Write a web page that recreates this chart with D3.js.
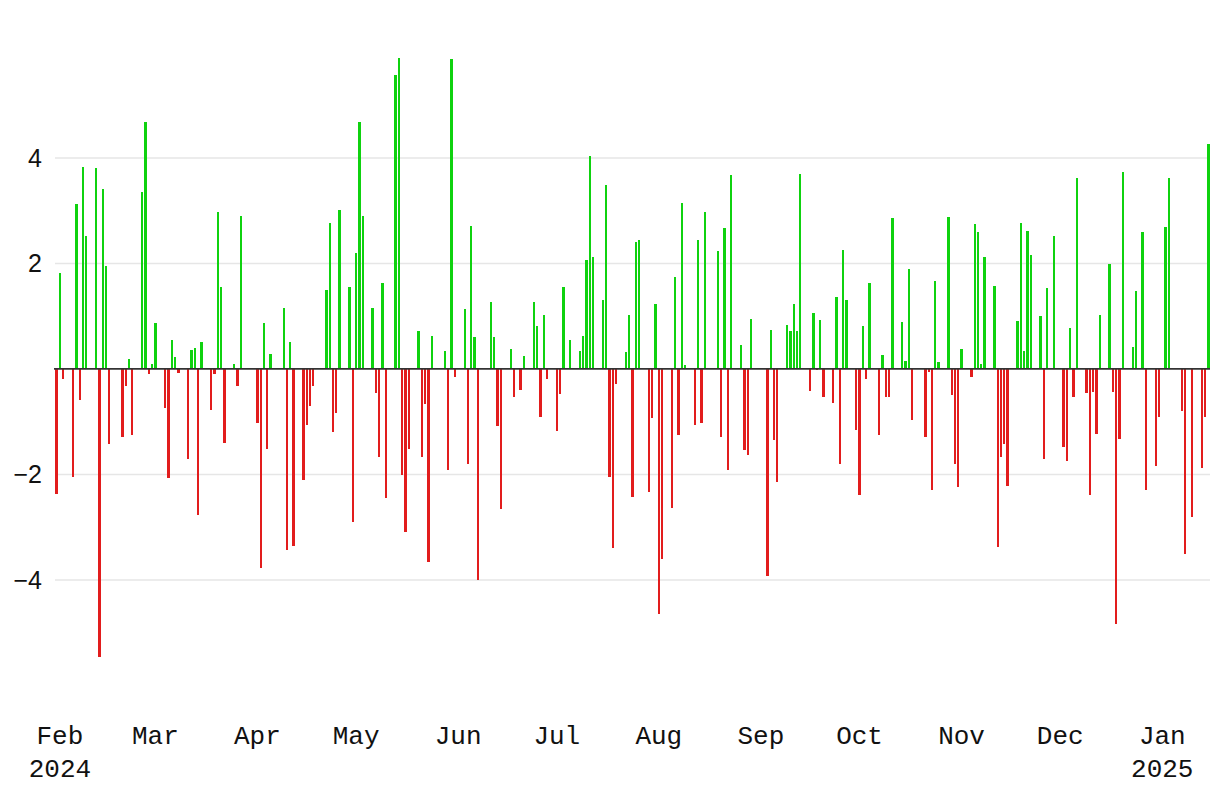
<!DOCTYPE html>
<html>
<head>
<meta charset="utf-8">
<script src="https://cdn.jsdelivr.net/npm/d3@7"></script>
<style>
  html, body { margin: 0; padding: 0; background: #fff; }
  svg { display: block; }
</style>
</head>
<body>
<svg id="chart" width="1220" height="808"></svg>
<script>
// ---- data (daily change, trading days) ----
const dates = [
"2024-01-31","2024-02-01","2024-02-02","2024-02-05","2024-02-06","2024-02-07","2024-02-08","2024-02-09",
"2024-02-12","2024-02-13","2024-02-14","2024-02-15","2024-02-16","2024-02-20","2024-02-21","2024-02-22","2024-02-23",
"2024-02-26","2024-02-27","2024-02-28","2024-02-29","2024-03-01","2024-03-04","2024-03-05","2024-03-06","2024-03-07","2024-03-08",
"2024-03-11","2024-03-12","2024-03-13","2024-03-14","2024-03-15","2024-03-18","2024-03-19","2024-03-20","2024-03-21","2024-03-22",
"2024-03-25","2024-03-26","2024-03-27","2024-04-01","2024-04-02","2024-04-03","2024-04-04","2024-04-05",
"2024-04-09","2024-04-10","2024-04-11","2024-04-12","2024-04-15","2024-04-16","2024-04-17","2024-04-18",
"2024-04-22","2024-04-23","2024-04-24","2024-04-25","2024-04-26","2024-04-29","2024-04-30","2024-05-01","2024-05-02","2024-05-03",
"2024-05-06","2024-05-07","2024-05-08","2024-05-09","2024-05-10","2024-05-13","2024-05-14","2024-05-15","2024-05-16","2024-05-17",
"2024-05-20","2024-05-21","2024-05-22","2024-05-23","2024-05-24","2024-05-28","2024-05-29","2024-05-30","2024-05-31",
"2024-06-03","2024-06-04","2024-06-05","2024-06-06","2024-06-07","2024-06-11","2024-06-12","2024-06-13","2024-06-14",
"2024-06-17","2024-06-18","2024-06-20","2024-06-21","2024-06-24","2024-06-25","2024-06-26","2024-06-27","2024-06-28",
"2024-07-01","2024-07-02","2024-07-03","2024-07-05","2024-07-08","2024-07-09","2024-07-10","2024-07-11","2024-07-12",
"2024-07-15","2024-07-16","2024-07-17","2024-07-18","2024-07-19","2024-07-22","2024-07-23","2024-07-24","2024-07-25","2024-07-26",
"2024-07-29","2024-07-30","2024-07-31","2024-08-01","2024-08-02","2024-08-05","2024-08-06","2024-08-07","2024-08-08","2024-08-09",
"2024-08-12","2024-08-13","2024-08-14","2024-08-15","2024-08-19","2024-08-20","2024-08-21","2024-08-22","2024-08-23",
"2024-08-26","2024-08-27","2024-08-28","2024-08-29","2024-09-03","2024-09-04","2024-09-05","2024-09-06",
"2024-09-09","2024-09-10","2024-09-11","2024-09-12","2024-09-13","2024-09-16","2024-09-17","2024-09-18","2024-09-19","2024-09-20",
"2024-09-23","2024-09-24","2024-09-25","2024-09-26","2024-09-27","2024-09-30","2024-10-01","2024-10-02","2024-10-03","2024-10-04",
"2024-10-07","2024-10-08","2024-10-09","2024-10-10","2024-10-11","2024-10-14","2024-10-15","2024-10-16","2024-10-17",
"2024-10-21","2024-10-22","2024-10-23","2024-10-24","2024-10-25","2024-10-28","2024-10-29","2024-10-30","2024-10-31","2024-11-01",
"2024-11-04","2024-11-05","2024-11-06","2024-11-07","2024-11-08","2024-11-11","2024-11-12","2024-11-13","2024-11-14","2024-11-15",
"2024-11-18","2024-11-19","2024-11-20","2024-11-21","2024-11-22","2024-11-25","2024-11-26","2024-11-27","2024-11-29",
"2024-12-02","2024-12-03","2024-12-04","2024-12-05","2024-12-06","2024-12-09","2024-12-10","2024-12-11","2024-12-12","2024-12-13",
"2024-12-16","2024-12-17","2024-12-18","2024-12-19","2024-12-20","2024-12-23","2024-12-24","2024-12-26","2024-12-27",
"2024-12-30","2024-12-31","2025-01-02","2025-01-03","2025-01-07","2025-01-08","2025-01-10","2025-01-13","2025-01-14","2025-01-15"
];
const changes = [
-2.37, 1.81, -0.19, -2.04, 3.12, -0.59, 3.83, 2.52,
3.81, -5.46, 3.41, 1.95, -1.42, -1.29, -0.33, 0.19, -1.25,
3.35, 4.68, -0.09, 0.09, 0.87, -0.74, -2.06, 0.55, 0.22, -0.07,
-1.70, 0.36, 0.39, -2.77, 0.51, -0.77, -0.09, 2.97, 1.55, -1.40,
0.09, -0.32, 2.90, -1.02, -3.78, 0.87, -1.52, 0.28,
1.15, -3.43, 0.51, -3.36, -2.10, -1.06, -0.71, -0.33,
1.49, 2.77, -1.20, -0.84, 3.01, 1.55, -2.90, 2.19, 4.68, 2.90,
1.15, -0.45, -1.67, 1.63, -2.44, 5.57, 5.90, -2.01, -3.10, -1.52,
0.72, -1.67, -0.66, -3.66, 0.62, 0.34, -1.91, 5.87, -0.16,
1.14, -1.80, 2.71, 0.60, -4.01, 1.27, 0.60, -1.09, -2.66,
0.38, -0.53, -0.40, 0.25, 1.27, 0.81, -0.92, 1.02, -0.20,
-1.17, -0.47, 1.55, 0.55, 0.34, 0.62, 2.07, 4.04, 2.12,
1.31, 3.49, -2.04, -3.40, -0.28, 0.32, 1.02, -2.42, 2.40, 2.45,
-2.34, -0.94, 1.23, -4.64, -3.61, -2.63, 1.74, -1.25, 3.14, 0.07,
-1.06, 2.45, -1.02, 2.97, 2.24, -1.30, 2.67, -1.91, 3.67,
0.45, -1.53, -1.64, 0.94, -3.92, 0.74, -1.34, -2.14,
0.83, 0.72, 1.23, 0.72, 3.70, -0.41, 1.06, -0.03, 0.93, -0.53,
-0.64, 1.36, -1.80, 2.25, 1.31, -1.15, -2.39, 0.81, -0.20, 1.63,
-1.25, 0.26, -0.54, -0.54, 2.86, 0.89, 0.15, 1.90, -0.96,
-1.30, -0.05, -2.30, 1.67, 0.13, 2.88, -0.49, -1.81, -2.23, 0.38,
-0.16, 2.74, 2.59, 0.09, 2.12, 1.57, -3.37, -1.67, -1.43, -2.22,
0.91, 2.77, 0.34, 2.62, 2.16, 1.00, -1.70, 1.53, 2.52,
-1.49, -1.74, 0.77, -0.53, 3.62, -0.45, -2.39, -0.43, -1.23, 1.02,
1.99, -0.43, -4.83, -1.32, 3.73, 0.42, 1.48, 2.59, -2.30,
-1.85, -0.92, 2.69, 3.62, -0.79, -3.50, -2.80, -1.88, -0.91, 4.26
];
const yTicks = [-4, -2, 2, 4];
const xTickDates = ["2024-02-01","2024-03-01","2024-04-01","2024-05-01","2024-06-01","2024-07-01",
                    "2024-08-01","2024-09-01","2024-10-01","2024-11-01","2024-12-01","2025-01-01"];
const xTickLabels = [["Feb","2024"],["Mar"],["Apr"],["May"],["Jun"],["Jul"],["Aug"],["Sep"],["Oct"],["Nov"],["Dec"],["Jan","2025"]];

// ---- chart ----
const parse = d3.utcParse("%Y-%m-%d");
const data = dates.map((d, i) => ({ date: parse(d), value: changes[i] }));

const W = 1220, H = 808;
const left = 55, right = 1210;
const svg = d3.select("#chart");

const x = d3.scaleUtc()
  .domain([new Date(Date.UTC(2024, 0, 30, 12)), new Date(Date.UTC(2025, 0, 15, 12))])
  .range([left, right]);
const y = d3.scaleLinear().domain([-6, 6]).range([685.4, 52.4]);

// grid
svg.append("g").selectAll("line").data(yTicks).join("line")
  .attr("x1", left).attr("x2", right)
  .attr("y1", d => y(d)).attr("y2", d => y(d))
  .attr("stroke", "#e6e6e6").attr("stroke-width", 1.5);

// y labels
svg.append("g").selectAll("text").data(yTicks).join("text")
  .attr("x", 42).attr("y", d => y(d))
  .attr("dy", "0.36em")
  .attr("text-anchor", "end")
  .attr("font-family", "'Liberation Sans', Arial, sans-serif")
  .attr("font-size", 25)
  .attr("fill", "#111")
  .text(d => d < 0 ? "\u2212" + Math.abs(d) : String(d));

// bars
const bw = 2.3;
svg.append("g").attr("shape-rendering", "crispEdges")
  .selectAll("rect").data(data).join("rect")
  .attr("x", d => x(d.date) - bw / 2)
  .attr("width", bw)
  .attr("y", d => y(Math.max(0, d.value)))
  .attr("height", d => Math.abs(y(d.value) - y(0)))
  .attr("fill", d => d.value >= 0 ? "#0fd20f" : "#e21d1d");

// zero line
svg.append("line")
  .attr("x1", left - 1).attr("x2", right)
  .attr("y1", y(0)).attr("y2", y(0))
  .attr("stroke", "#333").attr("stroke-width", 1.6);

// x labels
const xl = svg.append("g").selectAll("text").data(xTickDates).join("text")
  .attr("x", d => x(parse(d)))
  .attr("y", 744)
  .attr("text-anchor", "middle")
  .attr("font-family", "'Liberation Mono', 'DejaVu Sans Mono', monospace")
  .attr("font-size", 26)
  .attr("fill", "#111");
xl.each(function(d, i) {
  const t = d3.select(this);
  xTickLabels[i].forEach((s, j) => {
    t.append("tspan").attr("x", x(parse(d))).attr("dy", j === 0 ? 0 : 33).text(s);
  });
});
</script>
</body>
</html>
